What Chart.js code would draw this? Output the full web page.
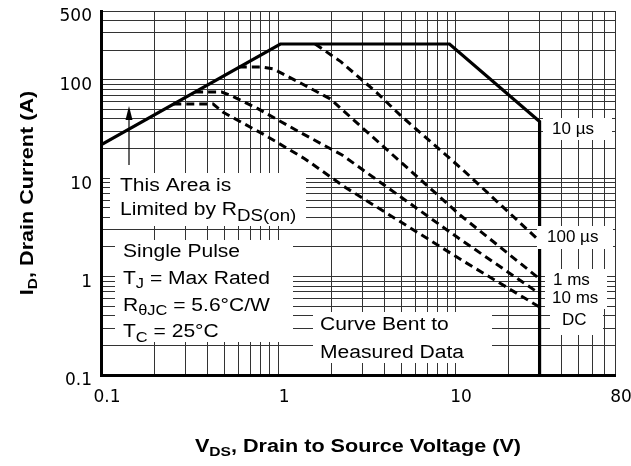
<!DOCTYPE html>
<html>
<head>
<meta charset="utf-8">
<script src="https://cdn.jsdelivr.net/npm/chart.js@4.4.1/dist/chart.umd.min.js"></script>
<style>
  html, body { margin: 0; padding: 0; background: #fff; }
  canvas { display: block; }
</style>
</head>
<body>
<canvas id="soaChart" width="631" height="466"></canvas>
<script>
// maximum rated forward biased safe operating area
const xLabels = [0.1, 1, 10, 80];
const yLabels = [0.1, 1, 10, 100, 500];
const decadeSteps = [1, 2, 3, 4, 5, 6, 7, 8, 9];

// 10 us limit (Rds(on) line, current limit, power limit, breakdown)
const us10Volts = [0.1, 1.03, 9.3, 30, 30];
const us10Amps = [21.8, 231, 231, 37.6, 0.1];

const us100Volts = [1.62, 2.27, 3.62, 4.88, 11.1, 26.5, 30];
const us100Amps = [231, 152, 73.7, 44, 12.1, 2.83, 2.3];

const ms1Volts = [0.6, 0.81, 0.94, 1.38, 1.97, 2.65, 10.7, 30];
const ms1Amps = [135, 135, 129, 90, 64, 39.6, 4.2, 0.95];

const ms10Volts = [0.34, 0.48, 0.535, 0.76, 1.31, 2.3, 10.25, 30];
const ms10Amps = [75, 75, 70, 51.5, 29.7, 17.2, 2.52, 0.67];

const dcVolts = [0.256, 0.43, 0.49, 0.84, 1.42, 2.39, 11.4, 30];
const dcAmps = [56.6, 56.6, 46.7, 27.5, 15.7, 8.1, 1.4, 0.49];

function toPoints(xs, ys) {
    return xs.map((x, i) => ({ x: x, y: ys[i] }));
}

// 1..9 in every decade, up to max
function gridValues(min, max) {
    const out = [];
    for (let d = min; d <= max; d *= 10) {
        decadeSteps.forEach((m) => {
            const v = +(d * m).toPrecision(3);
            if (v <= max) out.push(v);
        });
    }
    if (out[out.length - 1] !== max) out.push(max);
    return out;
}

function isLabel(list, v) {
    return list.some((l) => Math.abs(l - v) < 1e-9);
}

const TEXT_FONT = '"Liberation Sans", Arial, Helvetica, sans-serif';

// draws a run of text pieces, some of them subscripts, squeezed wider like the original
function drawRich(ctx, parts, x, y, o) {
    const sx = o.stretch || 1;
    const weight = o.bold ? "bold " : "";
    const widths = parts.map((p) => {
        ctx.font = weight + (p[1] ? o.subSize : o.size) + "px " + TEXT_FONT;
        return ctx.measureText(p[0]).width * sx;
    });
    const total = widths.reduce((a, b) => a + b, 0);
    let cx = o.align === "center" ? x - total / 2 : x;
    parts.forEach((p, i) => {
        ctx.font = weight + (p[1] ? o.subSize : o.size) + "px " + TEXT_FONT;
        ctx.save();
        ctx.translate(cx, y + (p[1] ? o.subDrop : 0));
        ctx.scale(sx, 1);
        ctx.fillText(p[0], 0, 0);
        ctx.restore();
        cx += widths[i];
    });
}

const soaNotes = {
    id: "soaNotes",
    afterDatasetsDraw(chart) {
        const ctx = chart.ctx;
        ctx.save();
        ctx.textAlign = "left";
        ctx.textBaseline = "alphabetic";

        // white panels behind the notes
        ctx.fillStyle = "#fff";
        [
            [110, 173, 196, 53],
            [115, 240, 178, 102],
            [313, 312, 179, 51],
            [543, 118, 69, 22],
            [537, 226, 76, 23],
            [545, 269, 62, 40],
            [550, 309, 53, 26],
        ].forEach((b) => ctx.fillRect(b[0], b[1], b[2], b[3]));

        ctx.fillStyle = "#000";
        const body = { size: 18, subSize: 14, subDrop: 4.5, stretch: 1.17 };
        drawRich(ctx, [["This Area is"]], 120, 191, body);
        drawRich(ctx, [["Limited by R"], ["DS(on)", 1]], 120, 215, { size: 18, subSize: 16, subDrop: 6, stretch: 1.17 });
        drawRich(ctx, [["Single Pulse"]], 123, 257, body);
        drawRich(ctx, [["T"], ["J", 1], [" = Max Rated"]], 123, 283.5, body);
        drawRich(ctx, [["R"], ["\u03b8JC", 1], [" = 5.6\u00b0C/W"]], 123, 310.5, body);
        drawRich(ctx, [["T"], ["C", 1], [" = 25\u00b0C"]], 123, 337, body);
        drawRich(ctx, [["Curve Bent to"]], 320, 330, body);
        drawRich(ctx, [["Measured Data"]], 320, 357.5, body);

        const tag = { size: 17 };
        drawRich(ctx, [["10 \u00b5s"]], 552, 134, tag);
        drawRich(ctx, [["100 \u00b5s"]], 547, 242, tag);
        drawRich(ctx, [["1 ms"]], 553, 285, tag);
        drawRich(ctx, [["10 ms"]], 552, 303, tag);
        drawRich(ctx, [["DC"]], 562, 325, tag);

        // arrow pointing at the Rds(on) limit
        ctx.strokeStyle = "#000";
        ctx.lineWidth = 1.2;
        ctx.beginPath();
        ctx.moveTo(129, 165);
        ctx.lineTo(129, 118);
        ctx.stroke();
        ctx.beginPath();
        ctx.moveTo(129, 106);
        ctx.lineTo(125.5, 120);
        ctx.lineTo(132.5, 120);
        ctx.closePath();
        ctx.fill();

        // axis titles with subscripts
        const title = { size: 18, subSize: 13, subDrop: 4, stretch: 1.2, bold: true, align: "center" };
        const area = chart.chartArea;
        drawRich(ctx, [["V"], ["DS", 1], [", Drain to Source Voltage (V)"]], (area.left + area.right) / 2, 452, title);
        ctx.save();
        ctx.translate(33, (area.top + area.bottom) / 2);
        ctx.rotate(-Math.PI / 2);
        drawRich(ctx, [["I"], ["D", 1], [", Drain Current (A)"]], 0, 0, title);
        ctx.restore();

        ctx.restore();
    },
};

const dashed = { borderColor: "#000", borderWidth: 3, borderDash: [8, 5], pointRadius: 0, showLine: true, tension: 0 };

const ctx = document.getElementById("soaChart").getContext("2d");
new Chart(ctx, {
    type: "scatter",
    data: {
        datasets: [
            { label: "10 us", data: toPoints(us10Volts, us10Amps), borderColor: "#000", borderWidth: 3.2, pointRadius: 0, showLine: true, tension: 0 },
            Object.assign({ label: "100 us", data: toPoints(us100Volts, us100Amps) }, dashed),
            Object.assign({ label: "1 ms", data: toPoints(ms1Volts, ms1Amps) }, dashed),
            Object.assign({ label: "10 ms", data: toPoints(ms10Volts, ms10Amps) }, dashed),
            Object.assign({ label: "DC", data: toPoints(dcVolts, dcAmps) }, dashed),
        ],
    },
    options: {
        responsive: false,
        animation: false,
        layout: { padding: { left: 0, right: 16, top: 11, bottom: 0 } },
        plugins: { legend: { display: false }, tooltip: { enabled: false } },
        scales: {
            x: {
                type: "logarithmic",
                min: 0.1,
                max: 80,
                afterBuildTicks: (s) => {
                    s.ticks = gridValues(0.1, 80).map((v) => ({ value: v }));
                },
                afterFit: (s) => {
                    s.height = 91;
                    s.paddingLeft = 0;
                    s.paddingRight = 0;
                },
                ticks: {
                    autoSkip: false,
                    maxRotation: 0,
                    minRotation: 0,
                    padding: 12,
                    labelOffset: 6,
                    color: "#000",
                    font: { family: '"DejaVu Sans", sans-serif', size: 17 },
                    callback: (v) => (isLabel(xLabels, v) ? String(v) : ""),
                },
                grid: { color: "#333", lineWidth: 1, drawTicks: false },
                border: { color: "#000", width: 3 },
            },
            y: {
                type: "logarithmic",
                min: 0.1,
                max: 500,
                afterBuildTicks: (s) => {
                    s.ticks = gridValues(0.1, 500).map((v) => ({ value: v }));
                },
                afterFit: (s) => {
                    s.width = 101;
                    s.paddingTop = 0;
                    s.paddingBottom = 0;
                },
                ticks: {
                    autoSkip: false,
                    padding: 9,
                    labelOffset: 6,
                    color: "#000",
                    font: { family: '"DejaVu Sans", sans-serif', size: 17 },
                    callback: (v) => (isLabel(yLabels, v) ? String(v) : ""),
                },
                grid: { color: "#333", lineWidth: 1, drawTicks: false },
                border: { color: "#000", width: 3 },
            },
        },
    },
    plugins: [soaNotes],
});
</script>
</body>
</html>
